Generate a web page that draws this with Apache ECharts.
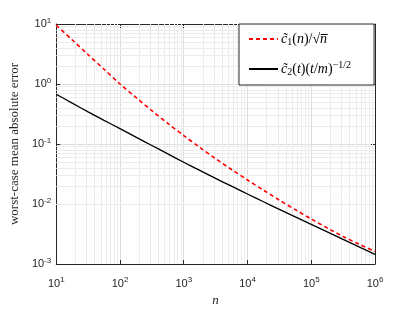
<!DOCTYPE html>
<html><head><meta charset="utf-8">
<script src="https://cdn.jsdelivr.net/npm/echarts@6/dist/echarts.min.js"></script>
<style>html,body{margin:0;padding:0;background:#fff}#c{width:415px;height:312px}</style>
</head><body><div id="c"></div>
<script>
const nValues = [10, 17.8, 31.6, 56.2, 100, 178, 316, 562, 1000, 1780, 3160, 5620, 1e4, 17800, 31600, 56200, 1e5, 178000, 316000, 562000, 1e6];
const c1Values = [9.55, 5.43, 3.09, 1.76, 1.00, 0.596, 0.359, 0.221, 0.138, 0.0881, 0.0569, 0.0376, 0.0251, 0.0170, 0.0116, 0.00804, 0.00562, 0.00398, 0.00288, 0.00214, 0.00162];
const c2Values = [0.676, 0.479, 0.343, 0.248, 0.180, 0.130, 0.0944, 0.0684, 0.0496, 0.0363, 0.0267, 0.0198, 0.0147, 0.0109, 0.00815, 0.00610, 0.00457, 0.00343, 0.00257, 0.00193, 0.00145];
const xRange = [10, 1e6];
const yRange = [1e-3, 10];
const seriesNames = ['c1', 'c2'];
const xLabel = 'n';
const yLabel = 'worst-case mean absolute error';

const SERIF = '"Liberation Serif", "DejaVu Serif", serif';
const SANS = '"Liberation Sans", Arial, sans-serif';
const AX = '#262626';

function minors(lo, hi) {
  const out = [];
  for (let k = Math.round(Math.log10(lo)); k < Math.round(Math.log10(hi)); k++) {
    for (let m = 2; m <= 9; m++) out.push(m * Math.pow(10, k));
  }
  return out;
}
function tickFmt(v) {
  const e = Math.round(Math.log10(v));
  return '{b|10}{s|' + e + '}';
}
const tickRich = {
  b: { fontFamily: SANS, fontSize: 11, color: AX },
  s: { fontFamily: SANS, fontSize: 8, color: AX, padding: [0, 0, 7, 0] }
};

const chart = echarts.init(document.getElementById('c'), null, { renderer: 'canvas' });
const minorLines = minors(xRange[0], xRange[1]).map(v => ({ xAxis: v }))
  .concat(minors(yRange[0], yRange[1]).map(v => ({ yAxis: v })));

const legendRich = {
  i: { fontFamily: SERIF, fontStyle: 'italic', fontSize: 14, color: '#000' },
  r: { fontFamily: SERIF, fontSize: 14, color: '#000' },
  sb: { fontFamily: SERIF, fontSize: 10, color: '#000', padding: [6, 0, 0, 0] },
  sp: { fontFamily: SERIF, fontSize: 10, color: '#000', padding: [0, 0, 8, 0] }
};
const legendText = {
  c1: '{i|c\u0303}{sb|1}{r|(}{i|n}{r|)/\u221A}{i|n\u0305}',
  c2: '{i|c\u0303}{sb|2}{r|(}{i|t}{r|)(}{i|t}{r|/}{i|m}{r|)}{sp|\u22121/2}'
};

const axisCommon = {
  type: 'log', logBase: 10,
  axisLine: { show: true, lineStyle: { color: AX, width: 1 } },
  axisTick: { show: true, inside: true, length: 4, lineStyle: { color: AX } },
  minorTick: { show: false },
  splitLine: { show: true, lineStyle: { color: '#dcdcdc', width: 1 } }
};

chart.setOption({
  backgroundColor: '#fff',
  animation: false,
  grid: { left: 54, right: 40, top: 24, bottom: 40, containLabel: false },
  xAxis: [
    Object.assign({}, axisCommon, {
      min: xRange[0], max: xRange[1], position: 'bottom',
      axisLabel: { formatter: tickFmt, rich: tickRich, margin: 12 },
      name: xLabel, nameLocation: 'middle', nameGap: 30,
      nameTextStyle: { fontFamily: SERIF, fontStyle: 'italic', fontSize: 13, color: AX }
    }),
    Object.assign({}, axisCommon, {
      min: xRange[0], max: xRange[1], position: 'top',
      axisLabel: { show: false }, splitLine: { show: false }
    })
  ],
  yAxis: [
    Object.assign({}, axisCommon, {
      min: yRange[0], max: yRange[1], position: 'left',
      axisLabel: { formatter: tickFmt, rich: tickRich, margin: 5 },
      name: yLabel, nameLocation: 'middle', nameGap: 29,
      nameTextStyle: { fontFamily: SERIF, fontSize: 13, color: AX }
    }),
    Object.assign({}, axisCommon, {
      min: yRange[0], max: yRange[1], position: 'right',
      axisLabel: { show: false }, splitLine: { show: false }
    })
  ],
  legend: {
    orient: 'vertical', left: 239, top: 24, z: 20,
    padding: [8, 23, 8, 9], itemGap: 13, itemWidth: 29, itemHeight: 14,
    data: seriesNames,
    formatter: name => legendText[name],
    itemStyle: { opacity: 0 },
    textStyle: { rich: legendRich, padding: [0, 0, 0, -2] },
    backgroundColor: '#fff', borderColor: AX, borderWidth: 1, borderRadius: 0,
    selectedMode: false
  },
  series: [
    {
      name: '_grid', type: 'line', data: [], silent: true, z: 1,
      markLine: {
        silent: true, z: 1, zlevel: 0, symbol: ['none', 'none'], label: { show: false },
        lineStyle: { color: '#ececec', width: 1, type: 'solid' },
        data: minorLines, animation: false
      }
    },
    {
      name: seriesNames[0], type: 'line', showSymbol: false, symbol: 'none', smooth: 0.3, z: 10,
      data: nValues.map((n, i) => [n, c1Values[i]]),
      lineStyle: { color: '#ff0000', width: 1.6, type: [4, 3] },
      itemStyle: { color: '#ff0000' }
    },
    {
      name: seriesNames[1], type: 'line', showSymbol: false, symbol: 'none', smooth: 0.3, z: 10,
      data: nValues.map((n, i) => [n, c2Values[i]]),
      lineStyle: { color: '#000000', width: 1.3, type: 'solid' },
      itemStyle: { color: '#000000' }
    }
  ]
});
</script></body></html>
